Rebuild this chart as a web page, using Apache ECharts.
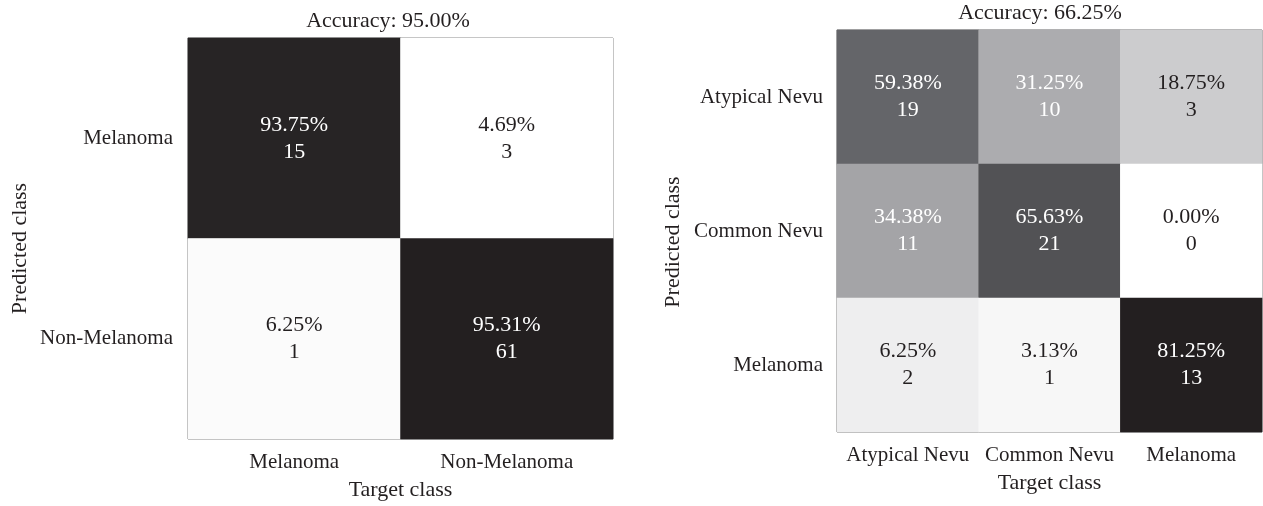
<!DOCTYPE html>
<html>
<head>
<meta charset="utf-8">
<script src="https://cdn.jsdelivr.net/npm/echarts@6/dist/echarts.min.js"></script>
<style>
html,body{margin:0;padding:0;background:#fff;}
#chart{width:1263px;height:506px;}
</style>
</head>
<body>
<div id="chart"></div>
<script>
// ---- data ----
const leftTitle = 'Accuracy: 95.00%';
const leftClasses = ['Melanoma', 'Non-Melanoma'];
// rows = predicted class, columns = target class
const leftPct = [
  [93.75, 4.69],
  [6.25, 95.31]
];
const leftCounts = [
  [15, 3],
  [1, 61]
];

const rightTitle = 'Accuracy: 66.25%';
const rightClasses = ['Atypical Nevu', 'Common Nevu', 'Melanoma'];
const rightPct = [
  [59.38, 31.25, 18.75],
  [34.38, 65.63, 0.00],
  [6.25, 3.13, 81.25]
];
const rightCounts = [
  [19, 10, 3],
  [11, 21, 0],
  [2, 1, 13]
];

const xName = 'Target class';
const yName = 'Predicted class';

// ---- build ----
const FONT = 'Liberation Serif';
const TXT = '#231f20';
const FS_TICK = 21;
const FS = 22;

function toCells(pct, counts) {
  const out = [];
  pct.forEach((row, r) => row.forEach((v, c) => out.push([c, r, v, counts[r][c]])));
  return out;
}
function range(pct) {
  const flat = pct.flat();
  return [Math.min(...flat), Math.max(...flat)];
}
const leftCells = toCells(leftPct, leftCounts);
const rightCells = toCells(rightPct, rightCounts);
const lr = range(leftPct), rr = range(rightPct);

function labelFormatter(rng) {
  return function (p) {
    const norm = (p.value[2] - rng[0]) / (rng[1] - rng[0]);
    const k = norm > 0.3 ? 'w' : 'd';
    return '{' + k + '|' + p.value[2].toFixed(2) + '%}\n{' + k + '|' + p.value[3] + '}';
  };
}
const rich = {
  w: { color: '#ffffff', fontFamily: FONT, fontSize: FS, lineHeight: 27 },
  d: { color: TXT, fontFamily: FONT, fontSize: FS, lineHeight: 27 }
};
const grayRamp = ['#ffffff', '#c8c8ca', '#949498', '#606165', '#231f20'];

function xAxis(idx, cats, labelMargin, nameGap) {
  return {
    type: 'category', gridIndex: idx, data: cats,
    axisLine: { show: false }, axisTick: { show: false }, splitLine: { show: false },
    axisLabel: { color: TXT, fontFamily: FONT, fontSize: FS_TICK, margin: labelMargin, interval: 0 },
    name: xName, nameLocation: 'middle', nameGap: nameGap,
    nameTextStyle: { color: TXT, fontFamily: FONT, fontSize: FS }
  };
}
function yAxis(idx, cats, labelMargin, nameGap, shift) {
  return {
    type: 'category', gridIndex: idx, data: cats, inverse: true,
    axisLine: { show: false }, axisTick: { show: false }, splitLine: { show: false },
    axisLabel: { color: TXT, fontFamily: FONT, fontSize: FS_TICK, margin: labelMargin, interval: 0, padding: [10, 0, 0, 0] },
    name: yName, nameLocation: 'middle', nameGap: nameGap, nameRotate: 90,
    nameTextStyle: { color: TXT, fontFamily: FONT, fontSize: FS, padding: [0, shift, 0, 0] }
  };
}

const chart = echarts.init(document.getElementById('chart'));
chart.setOption({
  animation: false,
  backgroundColor: '#ffffff',
  title: [
    { text: leftTitle, left: 388, top: 10, textAlign: 'center', padding: 0,
      textStyle: { color: TXT, fontFamily: FONT, fontSize: FS, fontWeight: 'normal' } },
    { text: rightTitle, left: 1040, top: 2, textAlign: 'center', padding: 0,
      textStyle: { color: TXT, fontFamily: FONT, fontSize: FS, fontWeight: 'normal' } }
  ],
  grid: [
    { left: 188, top: 38, width: 425, height: 402, show: true, borderColor: '#666', borderWidth: 1, backgroundColor: 'transparent' },
    { left: 837, top: 30, width: 425, height: 402, show: true, borderColor: '#666', borderWidth: 1, backgroundColor: 'transparent' }
  ],
  xAxis: [xAxis(0, leftClasses, 13, 40), xAxis(1, rightClasses, 13, 40)],
  yAxis: [yAxis(0, leftClasses, 15, 157, 20), yAxis(1, rightClasses, 14, 153, 22)],
  visualMap: [
    { show: false, seriesIndex: 0, dimension: 2, min: lr[0], max: lr[1], inRange: { color: grayRamp } },
    { show: false, seriesIndex: 1, dimension: 2, min: rr[0], max: rr[1], inRange: { color: grayRamp } }
  ],
  series: [
    { type: 'heatmap', xAxisIndex: 0, yAxisIndex: 0, data: leftCells,
      label: { show: true, formatter: labelFormatter(lr), rich: rich },
      itemStyle: { borderWidth: 0 }, emphasis: { disabled: true } },
    { type: 'heatmap', xAxisIndex: 1, yAxisIndex: 1, data: rightCells,
      label: { show: true, formatter: labelFormatter(rr), rich: rich },
      itemStyle: { borderWidth: 0 }, emphasis: { disabled: true } }
  ]
});
</script>
</body>
</html>
